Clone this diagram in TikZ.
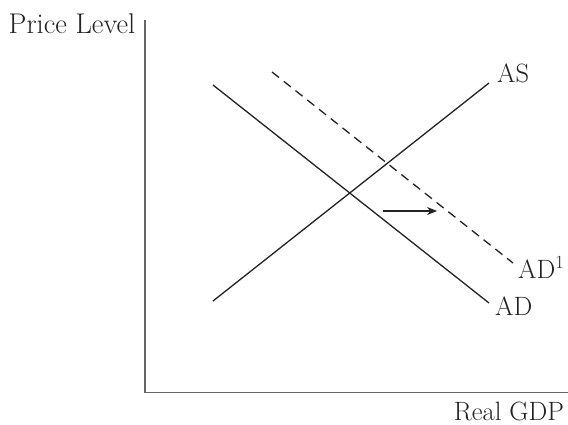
\documentclass[tikz,border=0pt]{standalone}
\usetikzlibrary{arrows.meta}
\definecolor{axisgray}{HTML}{666666}
\definecolor{curveink}{HTML}{222222}
\tikzset{
  axisline/.style={draw=axisgray, line width=1.8pt},
  curve/.style={draw=curveink, line width=1.3pt},
  dashcurve/.style={curve, dash pattern=on 9pt off 6pt},
  lbl/.style={inner sep=0pt, anchor=base west, text=curveink, font=\fontsize{26.5}{30}\selectfont},
  shiftarrow/.style={curve, -{Stealth[length=10pt,width=8pt]}}
}
\begin{document}
\begin{tikzpicture}[x=1pt,y=-1pt]
\useasboundingbox (0,0) rectangle (568,425);
% axes
\coordinate (ytop) at (145,20);
\coordinate (origin) at (145,392.5);
\coordinate (xend) at (568,392.5);
\draw[axisline] (ytop) -- (origin) -- (xend);
% curves
\coordinate (ad1) at (213,85);
\coordinate (ad2) at (489,303);
\coordinate (as1) at (213,301);
\coordinate (as2) at (489,83);
\coordinate (adb1) at (272,72);
\coordinate (adb2) at (513,263);
\draw[curve] (ad1) -- (ad2);
\draw[curve] (as1) -- (as2);
\draw[dashcurve] (adb1) -- (adb2);
% shift arrow
\coordinate (arrS) at (383,211);
\coordinate (arrE) at (437,211);
\draw[shiftarrow] (arrS) -- (arrE);
% labels
\node[lbl, anchor=base, font=\fontsize{28.5}{32}\selectfont] (plabel) at (72,34) {Price Level};
\node[lbl, anchor=base] (gdplabel) at (509,420) {Real GDP};
\node[lbl] (aslabel) at (497,83) {AS};
\node[lbl] (adlabel) at (495,315) {AD};
\node[lbl] (adblabel) at (518,278) {AD\textsuperscript{1}};
\end{tikzpicture}
\end{document}
